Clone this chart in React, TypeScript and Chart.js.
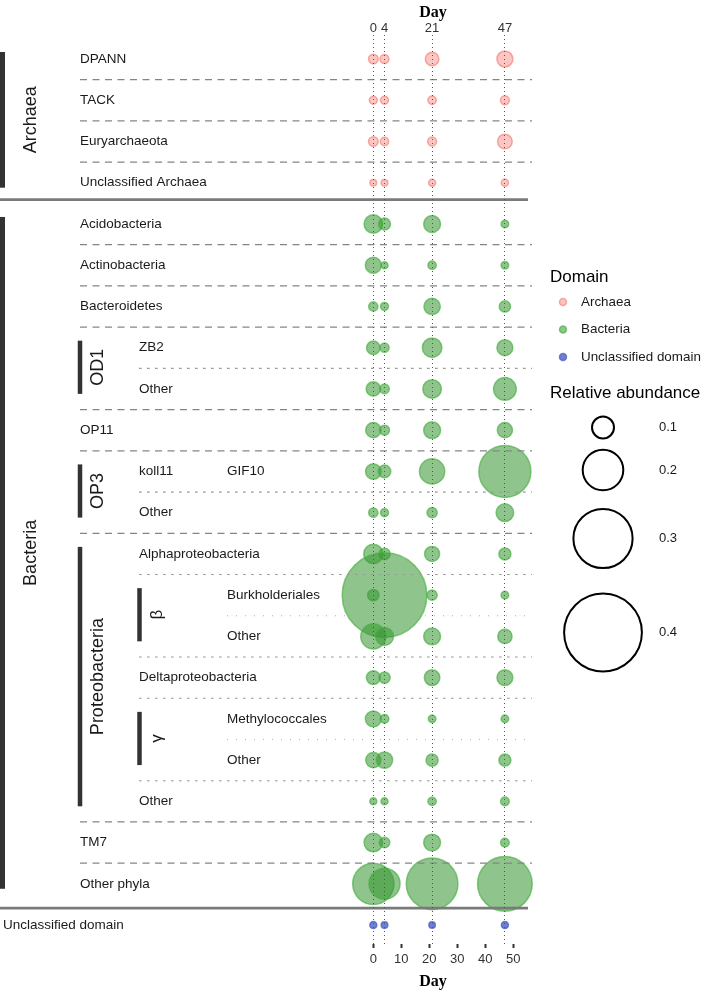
import React, { useEffect, useRef } from 'react';
import { Chart, registerables } from 'chart.js';

Chart.register(...registerables);

// ---------------- data ----------------
const DAYS = [0, 4, 21, 47];
const TOP_TICKS = [0, 4, 21, 47];
const BOTTOM_TICKS = [0, 10, 20, 30, 40, 50];
const SIZE_KEYS = [0.1, 0.2, 0.3, 0.4];
const DOMAINS = ['Archaea', 'Bacteria', 'Unclassified domain'];

const ROW_LABELS = [
  'DPANN', 'TACK', 'Euryarchaeota', 'Unclassified Archaea',
  'Acidobacteria', 'Actinobacteria', 'Bacteroidetes', 'ZB2', 'Other', 'OP11',
  'koll11', 'Other', 'Alphaproteobacteria', 'Burkholderiales', 'Other',
  'Deltaproteobacteria', 'Methylococcales', 'Other', 'Other', 'TM7', 'Other phyla',
  'Unclassified domain',
];
// hierarchy depth of each row label
const ROW_LEVELS = [1, 1, 1, 1, 1, 1, 1, 2, 2, 1, 2, 2, 2, 3, 3, 2, 3, 3, 2, 1, 1, 0];
const EXTRA_LABELS = [{ row: 10, text: 'GIF10', level: 3 }];

// relative abundance per row, columns = DAYS
const ARCHAEA_ROWS = [0, 1, 2, 3];
const ARCHAEA_ABUNDANCE = [
  [0.027, 0.023, 0.048, 0.061],
  [0.018, 0.018, 0.020, 0.023],
  [0.027, 0.020, 0.023, 0.054],
  [0.011, 0.011, 0.013, 0.014],
];
const BACTERIA_ROWS = [4, 5, 6, 7, 8, 9, 10, 11, 12, 13, 14, 15, 16, 17, 18, 19, 20];
const BACTERIA_ABUNDANCE = [
  [0.075, 0.040, 0.066, 0.016],
  [0.061, 0.013, 0.020, 0.016],
  [0.025, 0.018, 0.063, 0.036],
  [0.048, 0.025, 0.080, 0.061],
  [0.052, 0.027, 0.075, 0.097],
  [0.057, 0.029, 0.066, 0.057],
  [0.059, 0.043, 0.111, 0.255],
  [0.025, 0.018, 0.030, 0.070],
  [0.079, 0.036, 0.056, 0.040],
  [0.036, 0.430, 0.030, 0.016],
  [0.110, 0.072, 0.066, 0.052],
  [0.050, 0.036, 0.059, 0.061],
  [0.061, 0.022, 0.016, 0.016],
  [0.057, 0.063, 0.041, 0.040],
  [0.013, 0.013, 0.020, 0.022],
  [0.075, 0.032, 0.066, 0.022],
  [0.197, 0.142, 0.253, 0.269],
];
const UNCLASSIFIED_ROWS = [21];
const UNCLASSIFIED_ABUNDANCE = [[0.013, 0.011, 0.010, 0.013]];

const GROUPS = [
  { text: 'Archaea', first: 0, last: 3, level: 0 },
  { text: 'Bacteria', first: 4, last: 20, level: 0 },
  { text: 'OD1', first: 7, last: 8, level: 1 },
  { text: 'OP3', first: 10, last: 11, level: 1 },
  { text: 'Proteobacteria', first: 12, last: 18, level: 1 },
  { text: 'β', first: 13, last: 14, level: 2 },
  { text: 'γ', first: 16, last: 17, level: 2 },
];

// separator between row i and i+1
const SEPARATORS = [
  'long', 'long', 'long', 'thick', 'long', 'long', 'long', 'short', 'long', 'long',
  'short', 'long', 'short', 'dotted', 'short', 'short', 'dotted', 'short', 'long', 'long', 'thick',
];

// ---------------- styles ----------------
const FILLS = ['rgba(248,118,109,0.42)', 'rgba(55,150,50,0.56)', 'rgba(65,85,190,0.75)'];
const BORDERS = ['rgba(240,110,100,0.55)', 'rgba(70,175,65,0.65)', 'rgba(80,100,200,0.8)'];
const SANS = '"Liberation Sans", Arial, sans-serif';
const SERIF = '"Liberation Serif", "Times New Roman", serif';

const radiusFor = (v: number) => 2.3 + 93 * v;

function makeDataset(rows: number[], values: number[][], d: number) {
  const data: { x: number; y: number; r: number }[] = [];
  rows.forEach((row, i) => {
    DAYS.forEach((day, j) => {
      data.push({ x: day, y: row, r: radiusFor(values[i][j]) });
    });
  });
  return {
    label: DOMAINS[d],
    data,
    backgroundColor: FILLS[d],
    borderColor: BORDERS[d],
    borderWidth: 1.5,
    xAxisID: 'x',
    yAxisID: 'y',
    clip: false as any,
  };
}

const SEP_STYLE: Record<string, any> = {
  long: { x0: 80, color: '#858585', width: 1.3, dash: [7, 5.5] },
  short: { x0: 139, color: '#9a9a9a', width: 1.2, dash: [2.7, 5.3] },
  dotted: { x0: 227, color: '#b0b0b0', width: 1, dash: [1, 8] },
  thick: { x0: 0, x1: 528, color: '#7a7a7a', width: 2.8, dash: [] },
};

const LEVEL_TEXT_X = [3, 80, 139, 227];
const GROUP_BASELINE_X = [36, 103, 162];
const GROUP_BAR_X = [2.5, 80, 139.5];
const GROUP_BAR_W = [5, 4.5, 4.5];
const GROUP_FONT = [18, 18, 17];
const KEY_CENTERS_Y = [427.5, 470, 538.5, 632.5];

const annotatePlugin = {
  id: 'annotate',
  afterDatasetsDraw(chart: any) {
    const ctx = chart.ctx as CanvasRenderingContext2D;
    const y = chart.scales.y;
    const right = chart.chartArea.right;
    SEPARATORS.forEach((kind, i) => {
      const st = SEP_STYLE[kind];
      let pos = i + 0.5;
      if (kind === 'thick') pos += i < 10 ? -0.09 : 0.09;
      const py = y.getPixelForValue(pos);
      ctx.save();
      ctx.strokeStyle = st.color;
      ctx.lineWidth = st.width;
      ctx.setLineDash(st.dash);
      ctx.beginPath();
      ctx.moveTo(st.x0, py);
      ctx.lineTo(st.x1 ?? right, py);
      ctx.stroke();
      ctx.restore();
    });
  },
  afterDraw(chart: any) {
    const ctx = chart.ctx as CanvasRenderingContext2D;
    const y = chart.scales.y;
    ctx.save();
    // row labels
    ctx.fillStyle = '#1a1a1a';
    ctx.textBaseline = 'middle';
    ctx.textAlign = 'left';
    ctx.font = `13.5px ${SANS}`;
    ROW_LABELS.forEach((t, i) => {
      ctx.fillText(t, LEVEL_TEXT_X[ROW_LEVELS[i]], y.getPixelForValue(i));
    });
    EXTRA_LABELS.forEach((e) => {
      ctx.fillText(e.text, LEVEL_TEXT_X[e.level], y.getPixelForValue(e.row));
    });
    // group bars + rotated labels
    GROUPS.forEach((g) => {
      const y0 = y.getPixelForValue(g.first - 0.17);
      const y1 = y.getPixelForValue(g.last + 0.12);
      ctx.fillStyle = '#333333';
      const w = GROUP_BAR_W[g.level];
      ctx.fillRect(GROUP_BAR_X[g.level] - w / 2, y0, w, y1 - y0);
      ctx.save();
      ctx.translate(GROUP_BASELINE_X[g.level], (y0 + y1) / 2);
      ctx.rotate(-Math.PI / 2);
      ctx.font = `${GROUP_FONT[g.level]}px ${SANS}`;
      ctx.fillStyle = '#1a1a1a';
      ctx.textAlign = 'center';
      ctx.textBaseline = 'alphabetic';
      ctx.fillText(g.text, 0, 0);
      ctx.restore();
    });
    // legend: domain
    ctx.textAlign = 'left';
    ctx.textBaseline = 'middle';
    ctx.fillStyle = '#000';
    ctx.font = `17px ${SANS}`;
    ctx.fillText('Domain', 550, 277);
    DOMAINS.forEach((d, i) => {
      const cy = 302 + i * 27.5;
      ctx.beginPath();
      ctx.arc(563, cy, 3.5, 0, Math.PI * 2);
      ctx.fillStyle = FILLS[i];
      ctx.fill();
      ctx.lineWidth = 1.5;
      ctx.strokeStyle = BORDERS[i];
      ctx.stroke();
      ctx.fillStyle = '#1a1a1a';
      ctx.font = `13.4px ${SANS}`;
      ctx.fillText(d, 581, cy);
    });
    // legend: size
    ctx.fillStyle = '#000';
    ctx.font = `17px ${SANS}`;
    ctx.fillText('Relative abundance', 550, 393);
    SIZE_KEYS.forEach((v, i) => {
      const cy = KEY_CENTERS_Y[i];
      ctx.beginPath();
      ctx.arc(603, cy, radiusFor(v) - 0.6, 0, Math.PI * 2);
      ctx.lineWidth = 2;
      ctx.strokeStyle = '#000';
      ctx.stroke();
      ctx.fillStyle = '#1a1a1a';
      ctx.font = `13px ${SANS}`;
      ctx.fillText(v.toFixed(1), 659, cy);
    });
    ctx.restore();
  },
};

export default function App() {
  const ref = useRef<HTMLCanvasElement | null>(null);
  useEffect(() => {
    if (!ref.current) return;
    const chart = new Chart(ref.current, {
      type: 'bubble',
      data: {
        datasets: [
          makeDataset(ARCHAEA_ROWS, ARCHAEA_ABUNDANCE, 0),
          makeDataset(BACTERIA_ROWS, BACTERIA_ABUNDANCE, 1),
          makeDataset(UNCLASSIFIED_ROWS, UNCLASSIFIED_ABUNDANCE, 2),
        ] as any,
      },
      options: {
        responsive: false,
        animation: false,
        layout: { autoPadding: false, padding: { left: 334, right: 170, top: 0, bottom: 0 } },
        plugins: { legend: { display: false }, tooltip: { enabled: false } },
        scales: {
          x: {
            type: 'linear',
            position: 'bottom',
            min: -14.04,
            max: 56.68,
            afterBuildTicks: (s: any) => {
              s.ticks = BOTTOM_TICKS.map((v) => ({ value: v }));
            },
            afterFit: (s: any) => {
              s.height = 48;
            },
            grid: {
              drawOnChartArea: false,
              drawTicks: true,
              tickLength: 4,
              tickWidth: 2,
              tickColor: '#333',
            },
            border: { display: false },
            ticks: {
              autoSkip: false,
              maxRotation: 0,
              minRotation: 0,
              padding: 4,
              color: '#333',
              font: { family: SANS, size: 13 },
            },
            title: {
              display: true,
              text: 'Day',
              color: '#000',
              font: { family: SERIF, size: 16, weight: 'bold' },
              padding: { top: 0, bottom: 0.5 },
            },
          },
          xTop: {
            type: 'linear',
            position: 'top',
            min: -14.04,
            max: 56.68,
            afterBuildTicks: (s: any) => {
              s.ticks = TOP_TICKS.map((v) => ({ value: v }));
            },
            afterFit: (s: any) => {
              s.height = 35;
            },
            grid: {
              drawOnChartArea: true,
              drawTicks: false,
              color: '#555',
              lineWidth: 1,
              z: 1,
            },
            border: { display: false, dash: [1, 3] },
            ticks: {
              autoSkip: false,
              maxRotation: 0,
              minRotation: 0,
              padding: 0,
              color: '#333',
              font: { family: SANS, size: 13, lineHeight: 1.0 },
            },
            title: {
              display: true,
              text: 'Day',
              color: '#000',
              font: { family: SERIF, size: 16, weight: 'bold' },
              padding: { top: 3, bottom: 0 },
            },
          },
          y: {
            type: 'linear',
            display: false,
            reverse: true,
            min: -0.582,
            max: 21.459,
          },
        },
      } as any,
      plugins: [annotatePlugin],
    });
    return () => chart.destroy();
  }, []);
  return (
    <div style={{ position: 'absolute', left: 0, top: 0, width: 702, height: 992 }}>
      <canvas ref={ref} width={702} height={992} style={{ display: 'block' }} />
    </div>
  );
}
